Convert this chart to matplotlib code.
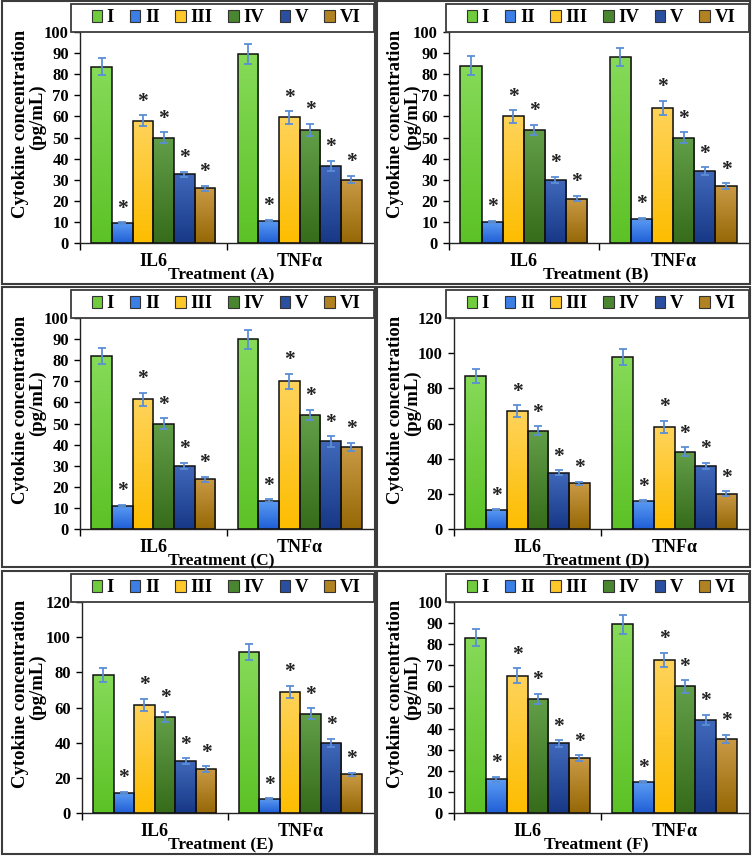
import matplotlib
matplotlib.use('Agg')
import matplotlib.pyplot as plt
import numpy as np
from matplotlib.patches import Rectangle, Patch
from matplotlib.colors import LinearSegmentedColormap

plt.rcParams['font.family'] = ['Liberation Serif', 'DejaVu Serif']
plt.rcParams['font.weight'] = 'bold'

# ---------------- data ----------------
groups = ['I', 'II', 'III', 'IV', 'V', 'VI']
cytokines = ['IL6', 'TNFα']
panel_letters = ['A', 'B', 'C', 'D', 'E', 'F']

# rows: IL6, TNFα ; columns: groups I..VI
A_mean = [[83.5, 9.5, 58, 50, 32.5, 26], [89.5, 10.5, 59.5, 53.5, 36.5, 30]]
A_err = [[4, 0.3, 2.5, 2.5, 1.2, 1.2], [4.7, 0.5, 3, 3, 2.5, 1.8]]
B_mean = [[84, 10, 60, 53.5, 30, 21], [88, 11.5, 64, 50, 34, 27]]
B_err = [[4.5, 0.5, 3, 2.5, 1.5, 1.3], [4.3, 0.5, 3.5, 2.5, 2, 1.3]]
C_mean = [[82, 11, 61.5, 50, 30, 23.5], [90, 13.5, 70, 54, 41.5, 39]]
C_err = [[4, 0.5, 3, 2.5, 1.5, 1.3], [4.5, 0.5, 3.5, 2.5, 2.5, 1.8]]
D_mean = [[87, 11, 67, 56, 32, 26], [98, 16, 58, 44, 36, 20]]
D_err = [[4, 0.3, 3.5, 2.5, 1.5, 1], [4.5, 0.5, 3.5, 2.5, 1.8, 1.5]]
E_mean = [[78.5, 11.5, 61.5, 54.5, 29.5, 25], [91.5, 8, 69, 56.5, 40, 22]]
E_err = [[4, 0.5, 3.5, 3, 1.5, 1.5], [4.5, 0.5, 3.5, 3, 2.3, 1]]
F_mean = [[83, 16, 65, 54, 33, 26], [89.5, 14.5, 72.5, 60, 44, 35]]
F_err = [[4, 1.2, 3.5, 2.5, 1.5, 1.3], [4.5, 0.5, 3.5, 3, 2.5, 2]]

means = [A_mean, B_mean, C_mean, D_mean, E_mean, F_mean]
errs = [A_err, B_err, C_err, D_err, E_err, F_err]
y_max = [100, 100, 100, 120, 120, 100]
y_step = [10, 10, 10, 20, 20, 10]
significant = [False, True, True, True, True, True]
ylabel_lines = ['Cytokine concentration', '(pg/mL)']

# ---------------- styles ----------------
top_colors = ['#86da58', '#5c9cf4', '#ffd35a', '#629e48', '#4068ba', '#c99a44']
bot_colors = ['#5cc226', '#1f5fd6', '#fdbd00', '#366c1a', '#173886', '#976806']
mid_colors = ['#70cc3c', '#3a7ee6', '#ffc82a', '#4a8630', '#2a4fa0', '#b08222']
err_color = '#5b8ed6'

W, H = 752, 856
fig = plt.figure(figsize=(W / 100, H / 100), dpi=100)

# panel rectangles in pixels (x, y, w, h), y from top
panels = [(2, 1, 373, 283), (377, 1, 373, 283),
          (2, 287, 373, 280), (377, 287, 373, 280),
          (2, 571, 373, 283), (377, 571, 373, 283)]
axis_left = [78, 72, 78, 77, 80, 77]


def fx(px):
    return px / W


def fy(py):
    return 1 - py / H


for i in range(6):
    px, py, pw, ph = panels[i]
    fig.add_artist(Rectangle((fx(px), fy(py + ph)), pw / W, ph / H,
                             transform=fig.transFigure, fill=False,
                             edgecolor='#3c3c3c', lw=1.5))
    al = axis_left[i]
    ax_left = px + al
    ax_right = px + 371
    ax_top = py + 31
    ax_bot = py + 242
    ax = fig.add_axes([fx(ax_left), fy(ax_bot), (ax_right - ax_left) / W,
                       (ax_bot - ax_top) / H])
    ax.patch.set_alpha(0)

    x = np.arange(len(cytokines))
    bw = 0.847 / 6
    for g in range(6):
        off = (g - 2.5) * bw
        vals = [means[i][c][g] for c in range(2)]
        ev = [errs[i][c][g] for c in range(2)]
        bars = ax.bar(x + off, vals, bw, color='none', edgecolor='#111111',
                      lw=1.1, zorder=3)
        cmap = LinearSegmentedColormap.from_list('g%d' % g, [bot_colors[g], top_colors[g]])
        grad = np.linspace(0, 1, 64).reshape(-1, 1)
        for r in bars:
            x0, w, h = r.get_x(), r.get_width(), r.get_height()
            im = ax.imshow(grad, extent=[x0, x0 + w, 0, h], origin='lower',
                           aspect='auto', cmap=cmap, zorder=2)
            im.set_clip_path(r)
        ax.errorbar(x + off, vals, yerr=ev, fmt='none', ecolor=err_color,
                    elinewidth=1.3, capsize=2.8, capthick=1.3, zorder=4)
        if significant[g]:
            for c in range(2):
                ax.annotate('*', xy=(x[c] + off, vals[c] + ev[c]),
                            xytext=(0, 2.5), textcoords='offset points',
                            ha='center', va='bottom', fontsize=15.5,
                            color='#222222')

    ax.set_xlim(-0.5, 1.5)
    ax.set_ylim(0, y_max[i])
    ax.set_yticks(np.arange(0, y_max[i] + 1, y_step[i]))
    ax.set_xticks([])
    ax.set_xticks([-0.5, 0.5], minor=True)
    ax.tick_params(axis='x', which='minor', length=5, width=1, direction='out',
                   labelbottom=False)
    ax.tick_params(axis='y', length=4, width=1, direction='out', pad=4,
                   labelsize=12)
    for lab in ax.get_yticklabels():
        lab.set_fontweight('bold')
    for s in ['top', 'right']:
        ax.spines[s].set_visible(False)
    for s in ['left', 'bottom']:
        ax.spines[s].set_linewidth(1)
        ax.spines[s].set_color('#222222')

    # category labels
    for c in range(2):
        fig.text(fx(ax_left + (ax_right - ax_left) * (0.25 + 0.5 * c)),
                 fy(ax_bot + 19), cytokines[c], ha='center', va='center',
                 fontsize=13, fontweight='bold')
    fig.text(fx(px + 219), fy(py + 274), 'Treatment (%s)' % panel_letters[i],
             ha='center', va='center', fontsize=12.5, fontweight='bold')
    # y label as two rotated lines
    fig.text(fx(px + 19), fy(py + 123), ylabel_lines[0], ha='center',
             va='center', rotation=90, fontsize=13.5, fontweight='bold')
    fig.text(fx(px + 35), fy(py + 116), ylabel_lines[1], ha='center',
             va='center', rotation=90, fontsize=13.5, fontweight='bold')

    # legend frame and entries
    fig.add_artist(Rectangle((fx(px + 69), fy(py + 31)), 303 / W, 28 / H,
                             transform=fig.transFigure, facecolor='white',
                             edgecolor='#3c3c3c', lw=1.3, zorder=5))
    handles = [Patch(facecolor=mid_colors[g], edgecolor='#333333', lw=0.8)
               for g in range(6)]
    leg = fig.legend(handles, groups, loc='center',
                     bbox_to_anchor=(fx(px + 86), fy(py + 28), 276 / W, 22 / H),
                     mode='expand', ncol=6, borderaxespad=0, frameon=False,
                     handlelength=0.55, handleheight=0.55, handletextpad=0.25,
                     columnspacing=0.5, borderpad=0.2,
                     prop={'weight': 'bold', 'size': 13.5})
    leg.set_zorder(6)

fig.savefig('out.png', dpi=100)
